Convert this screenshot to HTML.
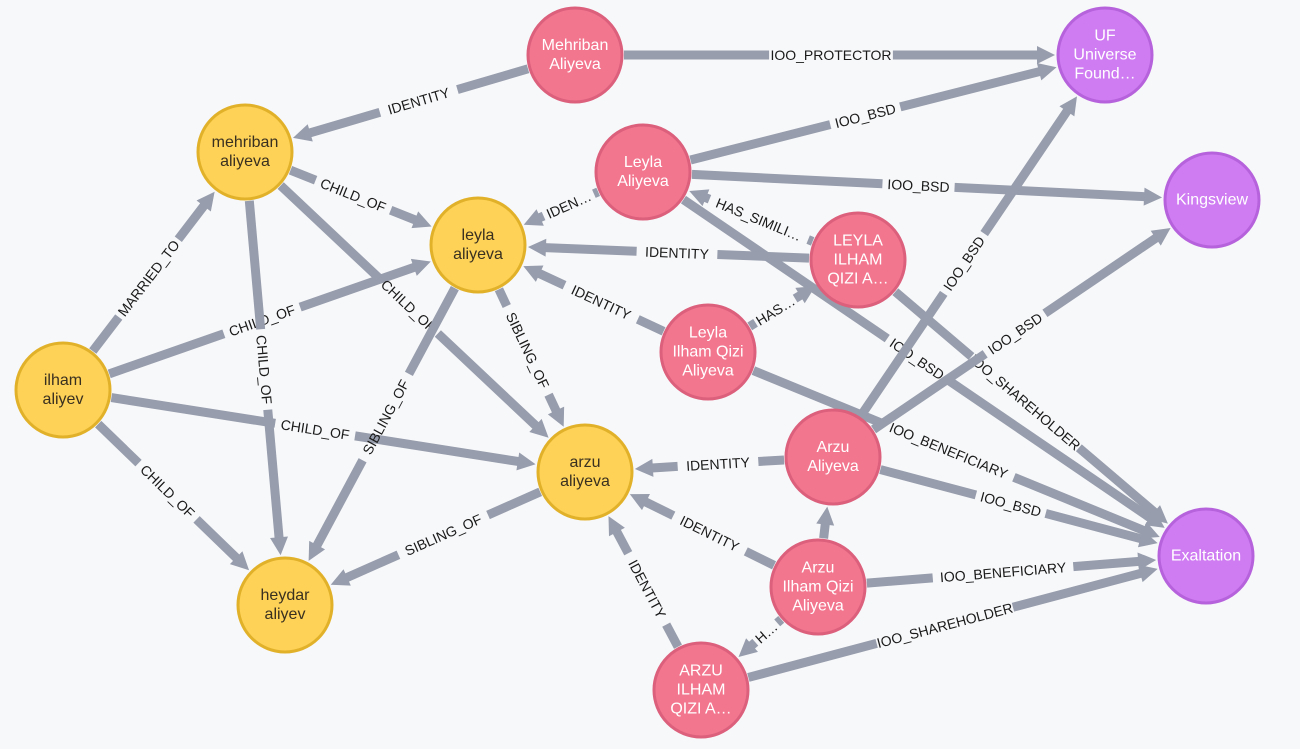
<!DOCTYPE html>
<html><head><meta charset="utf-8">
<style>
html,body{margin:0;padding:0;background:#f7f8fa;}
svg{display:block;}
.el{font-family:"Liberation Sans",sans-serif;font-size:14px;fill:#1a1a1a;}
.nl{font-family:"Liberation Sans",sans-serif;font-size:16px;text-anchor:middle;}
</style></head>
<body>
<svg id="g" width="1300" height="749" viewBox="0 0 1300 749" xmlns="http://www.w3.org/2000/svg">
<rect width="1300" height="749" fill="#f7f8fa"/>
<g id="edges"></g>
<g id="nodes"></g>
</svg>
<script>
var N={
 MA:{x:575,y:55,t:"p",l:["Mehriban","Aliyeva"]},
 UF:{x:1105,y:55,t:"v",l:["UF","Universe","Found…"]},
 ma:{x:245,y:152,t:"y",l:["mehriban","aliyeva"]},
 LA:{x:643,y:172,t:"p",l:["Leyla","Aliyeva"]},
 KV:{x:1212,y:200,t:"v",l:["Kingsview"]},
 la:{x:478,y:245,t:"y",l:["leyla","aliyeva"]},
 LI:{x:858,y:260,t:"p",l:["LEYLA","ILHAM","QIZI A…"]},
 LQ:{x:708,y:352,t:"p",l:["Leyla","Ilham Qizi","Aliyeva"]},
 ia:{x:63,y:390,t:"y",l:["ilham","aliyev"]},
 AA:{x:833,y:457,t:"p",l:["Arzu","Aliyeva"]},
 aa:{x:585,y:472,t:"y",l:["arzu","aliyeva"]},
 EX:{x:1206,y:556,t:"v",l:["Exaltation"]},
 AQ:{x:818,y:587,t:"p",l:["Arzu","Ilham Qizi","Aliyeva"]},
 ha:{x:285,y:605,t:"y",l:["heydar","aliyev"]},
 AI:{x:701,y:690,t:"p",l:["ARZU","ILHAM","QIZI A…"]}
};
var R=47;
var E=[
["MA","ma","IDENTITY"],["MA","UF","IOO_PROTECTOR"],["LA","UF","IOO_BSD"],["LA","KV","IOO_BSD"],
["LA","la","IDEN…"],["LA","EX","IOO_BSD"],["LI","LA","HAS_SIMILI…"],["LI","la","IDENTITY"],
["LI","EX","IOO_SHAREHOLDER"],["LQ","la","IDENTITY"],["LQ","LI","HAS…"],["LQ","EX","IOO_BENEFICIARY"],
["AA","UF","IOO_BSD"],["AA","KV","IOO_BSD"],["AA","aa","IDENTITY"],["AA","EX","IOO_BSD"],
["AQ","AA",""],["AQ","aa","IDENTITY"],["AQ","EX","IOO_BENEFICIARY"],["AQ","AI","H…"],
["AI","aa","IDENTITY"],["AI","EX","IOO_SHAREHOLDER"],["ia","ma","MARRIED_TO"],["ia","la","CHILD_OF"],
["ia","aa","CHILD_OF"],["ia","ha","CHILD_OF"],["ma","la","CHILD_OF"],["ma","aa","CHILD_OF"],
["ma","ha","CHILD_OF"],["la","ha","SIBLING_OF"],["la","aa","SIBLING_OF"],["aa","ha","SIBLING_OF"]
];
var NS="http://www.w3.org/2000/svg";
function el(t,a,p){var e=document.createElementNS(NS,t);for(var k in a)e.setAttribute(k,a[k]);p.appendChild(e);return e;}
var eg=document.getElementById("edges"),ng=document.getElementById("nodes");
var C="#979dac";
E.forEach(function(e){
 var a=N[e[0]],b=N[e[1]];var dx=b.x-a.x,dy=b.y-a.y,L=Math.hypot(dx,dy),ux=dx/L,uy=dy/L;
 var sx=a.x+ux*(R+2),sy=a.y+uy*(R+2),tx=b.x-ux*(R+3),ty=b.y-uy*(R+3);
 var hx=tx-ux*17,hy=ty-uy*17;
 var len=Math.hypot(hx-sx,hy-sy);
 var ang=Math.atan2(dy,dx)*180/Math.PI;
 var g=el("g",{transform:"translate("+sx+","+sy+") rotate("+ang+")"},eg);
 var lab=e[2];
 var w=lab?lab.length*8.6+12:0;
 var mid=len/2;
 if(lab){
  el("line",{x1:0,y1:0,x2:mid-w/2,y2:0,stroke:C,"stroke-width":9},g);
  el("line",{x1:mid+w/2,y1:0,x2:len,y2:0,stroke:C,"stroke-width":9},g);
  var flip=(ang>90||ang<-90);
  var t=el("text",{class:"el",x:0,y:0,"text-anchor":"middle","dominant-baseline":"central",
   transform:"translate("+mid+",0)"+(flip?" rotate(180)":"")},g);
  t.textContent=lab;
 }else{
  el("line",{x1:0,y1:0,x2:len,y2:0,stroke:C,"stroke-width":9},g);
 }
 var al=len+17;
 el("polygon",{points:(len-1)+",-9 "+al+",0 "+(len-1)+",9",fill:C},g);
});
var col={y:["#fdd257","#e2b12a","#3a3020"],p:["#f3768f","#dc5f7c","#fff"],v:["#cf7cf2","#b662dc","#fff"]};
for(var k in N){var n=N[k],c=col[n.t];
 el("circle",{cx:n.x,cy:n.y,r:R,fill:c[0],stroke:c[1],"stroke-width":3},ng);
 var lh=19,y0=n.y-(n.l.length-1)*lh/2;
 n.l.forEach(function(s,i){var t=el("text",{class:"nl",x:n.x,y:y0+i*lh,"dominant-baseline":"central",fill:c[2]},ng);t.textContent=s;});
}
</script>
</body></html>
